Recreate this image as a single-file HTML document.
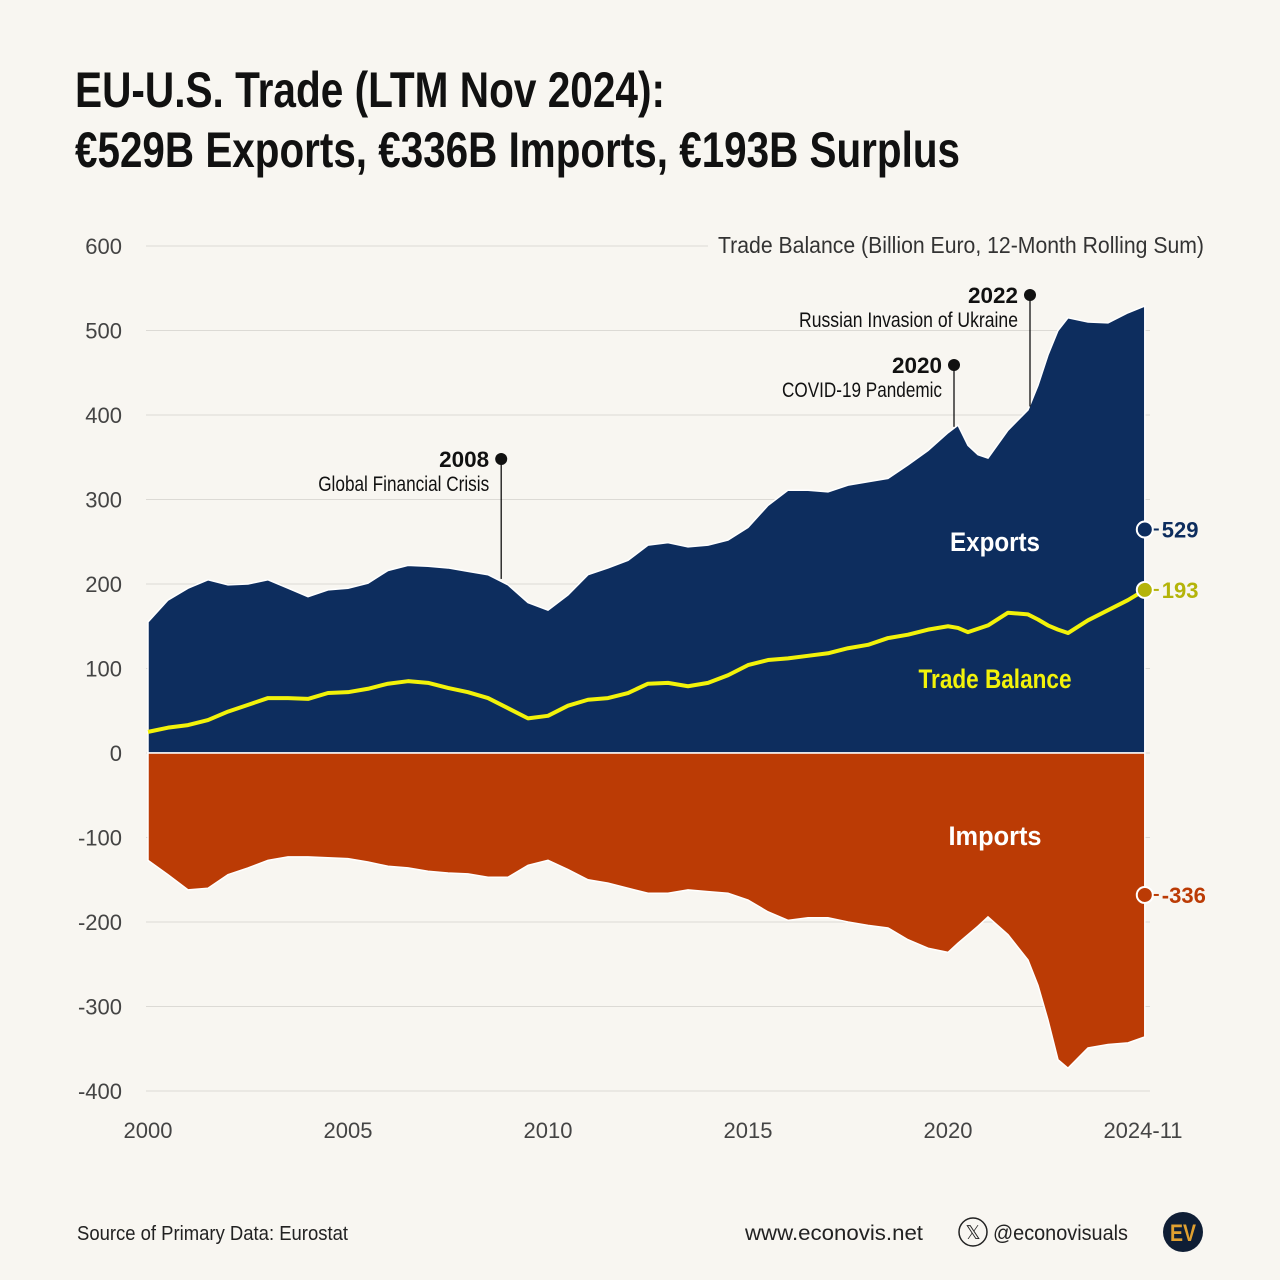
<!DOCTYPE html>
<html><head><meta charset="utf-8"><style>
html,body{margin:0;padding:0;background:#f8f6f1;}
svg{display:block;font-family:"Liberation Sans Narrow","Liberation Sans",sans-serif;}
</style></head><body>
<svg id="chart" width="1280" height="1280" viewBox="0 0 1280 1280">
<rect width="1280" height="1280" fill="#f8f6f1"/>
<text x="75" y="107" font-size="50" font-weight="bold" fill="#111" textLength="590" lengthAdjust="spacingAndGlyphs">EU-U.S. Trade (LTM Nov 2024):</text>
<text x="75" y="167" font-size="50" font-weight="bold" fill="#111" textLength="885" lengthAdjust="spacingAndGlyphs">€529B Exports, €336B Imports, €193B Surplus</text>
<g id="grid"></g>
<g id="plot"></g>
<g id="ann"></g>
<text x="1204" y="253" font-size="23" fill="#333" text-anchor="end" textLength="486" lengthAdjust="spacingAndGlyphs">Trade Balance (Billion Euro, 12-Month Rolling Sum)</text>
<text x="77" y="1240" font-size="20" fill="#222" textLength="271" lengthAdjust="spacingAndGlyphs">Source of Primary Data: Eurostat</text>
<text x="745" y="1240" font-size="21" fill="#222" textLength="178" lengthAdjust="spacingAndGlyphs">www.econovis.net</text>
<g><circle cx="973" cy="1232" r="14" fill="none" stroke="#222" stroke-width="1.5"/><text x="973" y="1239" font-size="19" text-anchor="middle" fill="#222">𝕏</text></g>
<text x="993" y="1240" font-size="21" fill="#222" textLength="135" lengthAdjust="spacingAndGlyphs">@econovisuals</text>
<g><circle cx="1183" cy="1232" r="20" fill="#0f1e35"/><text x="1183" y="1241" font-size="24" font-weight="bold" text-anchor="middle" fill="#e0a030" textLength="26" lengthAdjust="spacingAndGlyphs">EV</text></g>
</svg>
<script>
const years=[2000,2000.5,2001,2001.5,2002,2002.5,2003,2003.5,2004,2004.5,2005,2005.5,2006,2006.5,2007,2007.5,2008,2008.5,2009,2009.5,2010,2010.5,2011,2011.5,2012,2012.5,2013,2013.5,2014,2014.5,2015,2015.5,2016,2016.5,2017,2017.5,2018,2018.5,2019,2019.5,2020,2020.25,2020.5,2020.75,2021,2021.5,2022,2022.25,2022.5,2022.75,2023,2023.5,2024,2024.5,2024.92];
const exportsVals=[155,181,195,205,199,200,205,195,185,193,195,201,216,222,221,219,215,211,199,178,169,187,211,219,228,246,249,244,246,252,267,293,311,311,309,317,321,325,341,358,379,388,364,353,349,382,406,435,471,500,515,510,509,521,529];
const importsVals=[-127,-144,-162,-160,-144,-136,-127,-123,-123,-124,-125,-129,-134,-136,-140,-142,-143,-147,-147,-133,-127,-138,-150,-154,-160,-166,-166,-162,-164,-166,-174,-188,-198,-195,-195,-200,-204,-207,-221,-231,-236,-225,-215,-205,-194,-215,-245,-275,-316,-363,-373,-349,-345,-343,-336];
const balanceVals=[25,30,33,39,49,57,65,65,64,71,72,76,82,85,83,77,72,65,53,41,44,56,63,65,71,82,83,79,83,92,104,110,112,115,118,124,128,136,140,146,150,148,143,147,151,166,164,158,151,146,142,157,169,181,193];
const yTicks=[600,500,400,300,200,100,0,-100,-200,-300,-400];
const xTicks=[2000,2005,2010,2015,2020];
const NS='http://www.w3.org/2000/svg';
const X=y=>148+(y-2000)*40.0;
const Y=v=>753-v*0.845;
function mk(tag,attrs,parent){const e=document.createElementNS(NS,tag);for(const k in attrs)e.setAttribute(k,attrs[k]);parent.appendChild(e);return e;}
const grid=document.getElementById('grid'),plot=document.getElementById('plot'),ann=document.getElementById('ann');
yTicks.forEach(t=>{
  const l=mk('line',{x1:146,x2:t===600?708:1150,y1:Y(t),y2:Y(t),stroke:'#dcdad5','stroke-width':1},grid);
  
  
  const tx=mk('text',{x:122,y:Y(t)+8,'font-size':22,fill:'#444','text-anchor':'end'},grid);
  tx.textContent=t;
  
  
});
xTicks.forEach(t=>{
  const tx=mk('text',{x:X(t),y:1138,'font-size':22,fill:'#444','text-anchor':'middle'},grid);
  tx.textContent=t;
  
  
});
const last=mk('text',{x:1143,y:1138,'font-size':22,fill:'#444','text-anchor':'middle'},grid);
last.textContent='2024-11';


function area(vals,fill,name){
  let d='M'+X(years[0])+','+Y(0);
  years.forEach((y,i)=>d+=' L'+X(y)+','+Y(vals[i]));
  d+=' L'+X(years[years.length-1])+','+Y(0)+' Z';
  const p=mk('path',{d:d,fill:fill,stroke:'#fff','stroke-width':1.5},plot);
  
  
}
area(exportsVals,'#0d2d5e','exports-area');
area(importsVals,'#bb3b05','imports-area');
let bd='';years.forEach((y,i)=>bd+=(i?' L':'M')+X(y)+','+Y(balanceVals[i]));
const bl=mk('path',{d:bd,fill:'none',stroke:'#f2f20a','stroke-width':4,'stroke-linejoin':'round'},plot);


function lbl(txt,x,y,col,size,w,name){const t=mk('text',{x:x,y:y,'font-size':size,'font-weight':'bold',fill:col,'text-anchor':'middle',textLength:w,lengthAdjust:'spacingAndGlyphs'},plot);t.textContent=txt;}
lbl('Exports',995,551,'#fff',27,90,'exports-label');
lbl('Trade Balance',995,688,'#f2f20a',27,153,'trade-balance-label');
lbl('Imports',995,845,'#fff',27,93,'imports-label');
function endMark(pos,v,col,name){
  const x=X(years[years.length-1]),y=Y(pos);
  mk('line',{x1:x,x2:x+14,y1:y,y2:y,stroke:col,'stroke-width':2},plot);
  const c=mk('circle',{cx:x,cy:y,r:8,fill:col,stroke:'#fff','stroke-width':2},plot);
  
  
  const t=mk('text',{x:x+17,y:y+8,'font-size':22,'font-weight':'bold',fill:col},plot);
  t.textContent=String(v);
  
  
}
const eL=exportsVals[exportsVals.length-1],iL=importsVals[importsVals.length-1],bL=balanceVals[balanceVals.length-1];
endMark(eL/2,eL,'#0d2d5e','exports-end');
endMark(bL,bL,'#b4b40a','balance-end');
endMark(iL/2,iL,'#bb3b05','imports-end');
function event(yr,anchorVal,dotY,year,label,w,name){
  const x=X(yr);
  mk('line',{x1:x,x2:x,y1:dotY,y2:Y(anchorVal),stroke:'#111','stroke-width':1.3},ann);
  const c=mk('circle',{cx:x,cy:dotY,r:6,fill:'#111'},ann);
  
  
  const t1=mk('text',{x:x-12,y:dotY+8,'font-size':22,'font-weight':'bold',fill:'#111','text-anchor':'end',textLength:50,lengthAdjust:'spacingAndGlyphs'},ann);
  t1.textContent=year;
  
  
  const t2=mk('text',{x:x-12,y:dotY+32,'font-size':21,fill:'#111','text-anchor':'end',textLength:w,lengthAdjust:'spacingAndGlyphs'},ann);
  t2.textContent=label;
  
  
}
event(2008.83,206,459,'2008','Global Financial Crisis',171,'gfc-annotation');
event(2020.15,386,365,'2020','COVID-19 Pandemic',160,'covid-annotation');
event(2022.05,410,295,'2022','Russian Invasion of Ukraine',219,'ukraine-annotation');
</script>
</body></html>
